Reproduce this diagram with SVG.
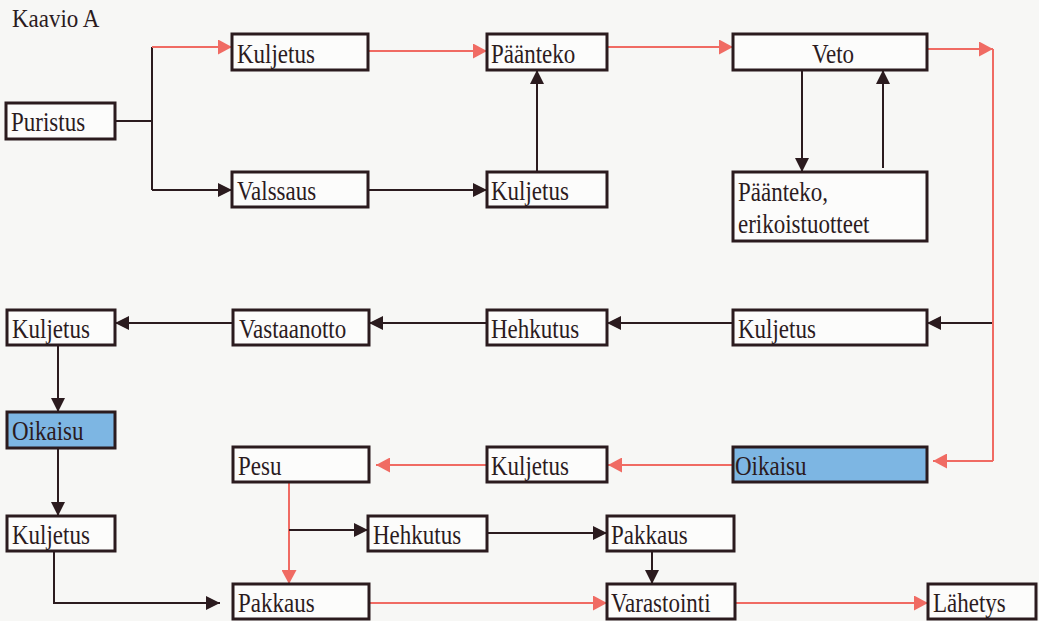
<svg xmlns="http://www.w3.org/2000/svg" width="1039" height="621" viewBox="0 0 1039 621" font-family="'Liberation Serif', 'Times New Roman', serif">
<style>
.bg{fill:#f7f7f5}
.box{fill:#fcfcfb;stroke:#2b1b1e;stroke-width:3}
.blue{fill:#7db6e3;stroke:#2b1b1e;stroke-width:3}
text{font-family:'Liberation Serif','Times New Roman',serif;font-size:23px;fill:#2b1b1e}
.k{fill:none;stroke:#2b1b1e;stroke-width:2}
.r{fill:none;stroke:#f06b63;stroke-width:2}
.ka{marker-end:url(#ah-k)}
.ra{marker-end:url(#ah-r)}
</style>
<defs>
<marker id="ah-k" markerUnits="userSpaceOnUse" markerWidth="14" markerHeight="14" refX="14" refY="7" orient="auto">
<path d="M0,0 L14,7 L0,14 z" fill="#2b1b1e"/>
</marker>
<marker id="ah-r" markerUnits="userSpaceOnUse" markerWidth="14" markerHeight="15" refX="14" refY="7.5" orient="auto">
<path d="M0,0 L14,7.5 L0,15 z" fill="#f06b63"/>
</marker>
</defs>
<rect class="bg" x="0" y="0" width="1039" height="621"/>
<text transform="translate(12 27) scale(1 1.1)">Kaavio A</text>

<g id="connectors">
<path class="k" d="M115,121 H152 M152,47 V190"/>
<path class="r ra" d="M152,47 H232"/>
<path class="k ka" d="M152,190 H232"/>
<path class="r ra" d="M368,51 H487"/>
<path class="r ra" d="M607,47 H733"/>
<path class="r ra" d="M927,49 H993"/>
<path class="r" d="M993,49 V461"/>
<path class="r ra" d="M993,461 H933"/>
<path class="k ka" d="M368,190 H487"/>
<path class="k ka" d="M537,172 V70"/>
<path class="k ka" d="M802,70 V172"/>
<path class="k ka" d="M883,168 V70"/>
<path class="k ka" d="M992,323 H927"/>
<path class="k ka" d="M733,323 H607"/>
<path class="k ka" d="M487,323 H369"/>
<path class="k ka" d="M233,323 H115"/>
<path class="k ka" d="M58,345 V412"/>
<path class="k ka" d="M58,448 V516"/>
<path class="k ka" d="M54,551 V603 H220"/>
<path class="r ra" d="M733,465 H608"/>
<path class="r ra" d="M487,465 H376"/>
<path class="r ra" d="M289,482 V584"/>
<path class="k ka" d="M289,530 H368"/>
<path class="k ka" d="M487,533 H607"/>
<path class="k ka" d="M652,551 V584"/>
<path class="r ra" d="M369,603 H607"/>
<path class="r ra" d="M723,603 H928"/>
</g>

<g id="puristus"><rect class="box" x="6" y="103" width="109" height="36"/><text transform="translate(11 131) scale(1 1.15)">Puristus</text></g>
<g id="kuljetus1"><rect class="box" x="232" y="34" width="136" height="36"/><text transform="translate(237 63) scale(1 1.15)">Kuljetus</text></g>
<g id="valssaus"><rect class="box" x="232" y="172" width="136" height="35"/><text transform="translate(237 200) scale(1 1.15)">Valssaus</text></g>
<g id="paanteko"><rect class="box" x="487" y="34" width="120" height="36"/><text transform="translate(491 63) scale(1 1.15)">Päänteko</text></g>
<g id="kuljetus2"><rect class="box" x="487" y="172" width="120" height="35"/><text transform="translate(491 200) scale(1 1.15)">Kuljetus</text></g>
<g id="veto"><rect class="box" x="733" y="34" width="194" height="36"/><text transform="translate(833 63) scale(1 1.15)" text-anchor="middle">Veto</text></g>
<g id="paanteko-erik"><rect class="box" x="733" y="172" width="194" height="69"/><text transform="translate(738 201) scale(1 1.15)">Päänteko,</text><text transform="translate(738 233) scale(1 1.15)">erikoistuotteet</text></g>
<g id="kuljetus3"><rect class="box" x="733" y="310" width="194" height="35"/><text transform="translate(738 338) scale(1 1.15)">Kuljetus</text></g>
<g id="hehkutus1"><rect class="box" x="487" y="310" width="120" height="35"/><text transform="translate(491 338) scale(1 1.15)">Hehkutus</text></g>
<g id="vastaanotto"><rect class="box" x="233" y="310" width="136" height="35"/><text transform="translate(239 338) scale(1 1.15)">Vastaanotto</text></g>
<g id="kuljetus4"><rect class="box" x="7" y="310" width="108" height="35"/><text transform="translate(12 338) scale(1 1.15)">Kuljetus</text></g>
<g id="oikaisu1"><rect class="blue" x="7" y="412" width="108" height="36"/><text transform="translate(12 440) scale(1 1.15)">Oikaisu</text></g>
<g id="kuljetus5"><rect class="box" x="7" y="516" width="108" height="35"/><text transform="translate(12 544) scale(1 1.15)">Kuljetus</text></g>
<g id="pesu"><rect class="box" x="233" y="447" width="136" height="35"/><text transform="translate(238 475) scale(1 1.15)">Pesu</text></g>
<g id="kuljetus6"><rect class="box" x="487" y="447" width="120" height="35"/><text transform="translate(491 475) scale(1 1.15)">Kuljetus</text></g>
<g id="oikaisu2"><rect class="blue" x="733" y="447" width="194" height="35"/><text transform="translate(735 475) scale(1 1.15)">Oikaisu</text></g>
<g id="hehkutus2"><rect class="box" x="368" y="516" width="119" height="35"/><text transform="translate(373 544) scale(1 1.15)">Hehkutus</text></g>
<g id="pakkaus2"><rect class="box" x="607" y="516" width="127" height="35"/><text transform="translate(611 544) scale(1 1.15)">Pakkaus</text></g>
<g id="pakkaus1"><rect class="box" x="233" y="584" width="136" height="35"/><text transform="translate(238 612) scale(1 1.15)">Pakkaus</text></g>
<g id="varastointi"><rect class="box" x="607" y="584" width="128" height="35"/><text transform="translate(611 612) scale(1 1.15)">Varastointi</text></g>
<g id="lahetys"><rect class="box" x="928" y="584" width="108" height="35"/><text transform="translate(933 612) scale(1 1.15)">Lähetys</text></g>
</svg>
